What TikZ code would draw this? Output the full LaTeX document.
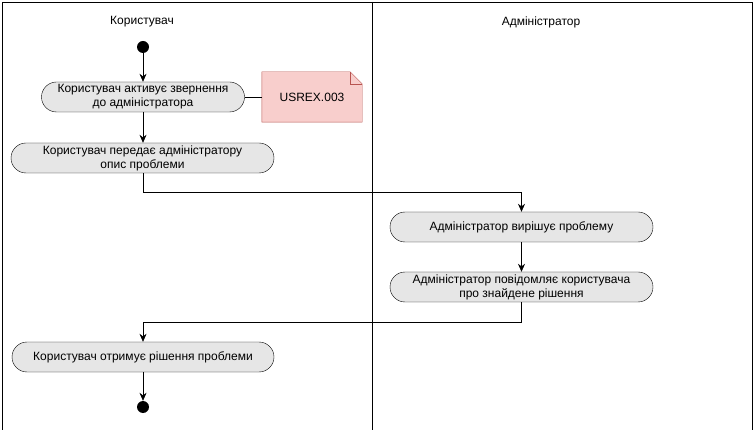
\documentclass[tikz,border=0pt]{standalone}
\usepackage{fontspec}
\setmainfont{Liberation Sans}
\usetikzlibrary{arrows.meta,calc,positioning,backgrounds}
\definecolor{notefill}{HTML}{F8CECC}
\definecolor{notedraw}{HTML}{B85450}
\definecolor{actfill}{HTML}{E6E6E6}
\tikzset{act/.style={draw,rounded corners=15pt,align=center,minimum height=30pt,fill=actfill,inner sep=2pt,font=\fontsize{12}{14}\selectfont},
  dot/.style={circle,fill=black,inner sep=0pt,minimum size=12pt},
  arr/.style={-{Stealth[length=8pt,width=7pt]},semithick},
  lane/.style={semithick}}

\begin{document}
\begin{tikzpicture}[x=1pt,y=-1pt,font=\fontsize{12}{14}\selectfont]
\useasboundingbox (0,0) rectangle (755,430);
% swimlanes
\draw[lane] (2,430)--(2,2)--(752,2)--(752,430); \draw[lane] (372,2)--(372,430);
\node (lane1) at (142,22) {Користувач};
\node (lane2) at (541,22) {Адміністратор};
% user lane
\node[dot] (start) at (143,47) {};
\node[act,minimum width=203pt] (n1) at (143,97) {Користувач активує звернення\\до адміністратора};
\node[minimum width=100pt,minimum height=50pt] (note) at (312,97) {USREX.003};
\begin{scope}[on background layer]
\draw[notedraw,fill=notefill] (note.south west)--(note.north west)--([xshift=-12pt]note.north east)
  --([yshift=-12pt]note.north east)--(note.south east)--cycle;
\draw[notedraw] ([xshift=-12pt]note.north east)--([xshift=-12pt,yshift=-12pt]note.north east)--([yshift=-12pt]note.north east);
\end{scope}
\node[act,minimum width=263pt] (n2) at (142.5,158) {Користувач передає адміністратору\\опис проблеми};
% admin lane
\node[act,minimum width=263pt] (n3) at (521.5,227) {Адміністратор вирішує проблему};
\node[act,minimum width=263pt] (n4) at (521.5,287) {Адміністратор повідомляє користувача\\про знайдене рішення};
\node[act,minimum width=262pt] (n5) at (143,357) {Користувач отримує рішення проблеми};
\node[dot] (stop) at (143,407) {};
% flows
\draw[arr] (start)--(n1);
\draw[semithick] (n1)--(note);
\draw[arr] (n1.south)--(n2.north-|n1.south);
\draw[arr] (n2.south-|n1.south)--++(0,19)-|(n3.north);
\draw[arr] (n3)--(n4);
\draw[arr] (n4.south)--++(0,20)-|(n5.north);
\draw[arr] (n5.south)--(stop);
\end{tikzpicture}
\end{document}
